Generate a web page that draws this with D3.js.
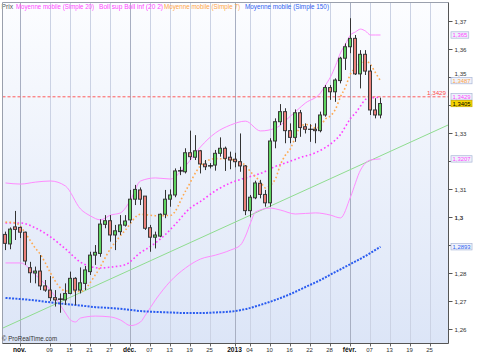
<!DOCTYPE html>
<html><head><meta charset="utf-8">
<script src="https://cdn.jsdelivr.net/npm/d3@7"></script>
<style>body{margin:0;background:#fff}svg{display:block;font-family:"Liberation Sans",Arial,sans-serif}</style>
</head><body><svg id="c" width="477" height="359"></svg>
<script>
// ---------- DATA ----------
const dates = d3.utcDay.range(new Date(Date.UTC(2012,9,29)), new Date(Date.UTC(2013,2,1)))
  .filter(d => d.getUTCDay() !== 0 && d.getUTCDay() !== 6)
  .map(d3.utcFormat("%Y-%m-%d"));

const opens = [1.2937,1.2903,1.2964,1.2962,1.2945,1.2818,1.2799,1.2806,1.2753,1.2738,1.2711,1.2706,1.2703,1.2726,1.2780,1.2738,1.2762,1.2804,1.2863,1.2869,1.2973,1.2986,1.2935,1.2947,1.2970,1.2989,1.3063,1.3096,1.3074,1.2961,1.2927,1.2931,1.3009,1.3063,1.3078,1.3164,1.3161,1.3229,1.3213,1.3236,1.3189,1.3182,1.3185,1.3227,1.3245,1.3213,1.3206,1.3197,1.3182,1.3022,1.3068,1.3120,1.3080,1.3050,1.3271,1.3340,1.3376,1.3308,1.3284,1.3372,1.3322,1.3313,1.3313,1.3308,1.3364,1.3462,1.3447,1.3487,1.3567,1.3608,1.3638,1.3511,1.3581,1.3521,1.3382,1.3364];
const highs = [1.2947,1.2962,1.3021,1.2965,1.2947,1.2839,1.2822,1.2863,1.2774,1.2788,1.2738,1.2726,1.2762,1.2804,1.2784,1.2819,1.2824,1.2875,1.2899,1.2991,1.3006,1.3006,1.2971,1.3006,1.3006,1.3096,1.3114,1.3105,1.3074,1.2971,1.2947,1.3012,1.3096,1.3098,1.3173,1.3179,1.3245,1.3308,1.3292,1.3239,1.3203,1.3192,1.3239,1.3284,1.3251,1.3233,1.3229,1.3298,1.3185,1.3078,1.3129,1.3132,1.3096,1.3281,1.3352,1.3403,1.3388,1.3334,1.3384,1.3382,1.3334,1.3331,1.3334,1.3376,1.3471,1.3471,1.3495,1.3572,1.3620,1.3710,1.3650,1.3596,1.3596,1.3543,1.3424,1.3426];
const lows = [1.2881,1.2884,1.2917,1.2924,1.2828,1.2764,1.2762,1.2738,1.2732,1.2699,1.2679,1.2657,1.2685,1.2723,1.2685,1.2726,1.2738,1.2792,1.2828,1.2857,1.2959,1.2911,1.2881,1.2935,1.2965,1.2977,1.3042,1.3042,1.2953,1.2875,1.2887,1.2927,1.2995,1.3036,1.3070,1.3149,1.3155,1.3203,1.3203,1.3155,1.3167,1.3173,1.3165,1.3215,1.3164,1.3170,1.3177,1.3161,1.3006,1.2998,1.3063,1.3066,1.3036,1.3036,1.3245,1.3328,1.3263,1.3263,1.3268,1.3286,1.3298,1.3268,1.3263,1.3302,1.3358,1.3418,1.3411,1.3477,1.3525,1.3585,1.3507,1.3459,1.3507,1.3364,1.3352,1.3352];
const closes = [1.2905,1.2956,1.2955,1.2945,1.2842,1.2800,1.2806,1.2753,1.2738,1.2711,1.2703,1.2706,1.2726,1.2780,1.2738,1.2764,1.2810,1.2863,1.2873,1.2974,1.2986,1.2935,1.2950,1.2971,1.2985,1.3063,1.3098,1.3063,1.2959,1.2927,1.2935,1.3009,1.3063,1.3078,1.3164,1.3164,1.3229,1.3215,1.3236,1.3189,1.3179,1.3182,1.3227,1.3245,1.3209,1.3203,1.3197,1.3182,1.3022,1.3070,1.3121,1.3080,1.3050,1.3271,1.3340,1.3376,1.3308,1.3284,1.3372,1.3319,1.3313,1.3313,1.3308,1.3364,1.3462,1.3447,1.3489,1.3567,1.3608,1.3638,1.3511,1.3581,1.3521,1.3382,1.3364,1.3405];

const ma7 = [["2012-10-29",1.2981],["2012-10-31",1.2978],["2012-11-01",1.2966],["2012-11-02",1.2940],["2012-11-05",1.2914],["2012-11-06",1.2887],["2012-11-07",1.2865],["2012-11-08",1.2834],["2012-11-09",1.2799],["2012-11-14",1.2735],["2012-11-19",1.2733],["2012-11-22",1.2793],["2012-11-27",1.2886],["2012-11-30",1.2953],["2012-12-05",1.3009],["2012-12-10",1.3004],["2012-12-13",1.3005],["2012-12-18",1.3092],["2012-12-21",1.3182],["2012-12-26",1.3208],["2012-12-31",1.3205],["2013-01-03",1.3184],["2013-01-04",1.3161],["2013-01-07",1.3143],["2013-01-08",1.3125],["2013-01-09",1.3103],["2013-01-10",1.3114],["2013-01-11",1.3136],["2013-01-14",1.3187],["2013-01-15",1.3221],["2013-01-16",1.3244],["2013-01-17",1.3286],["2013-01-18",1.3324],["2013-01-21",1.3330],["2013-01-22",1.3326],["2013-01-23",1.3317],["2013-01-24",1.3325],["2013-01-25",1.3350],["2013-01-28",1.3361],["2013-01-29",1.3385],["2013-01-30",1.3429],["2013-01-31",1.3464],["2013-02-01",1.3511],["2013-02-04",1.3532],["2013-02-05",1.3549],["2013-02-06",1.3559],["2013-02-07",1.3544],["2013-02-08",1.3515],["2013-02-11",1.3486]];

const ma20 = [["2012-10-29",1.2978],["2012-11-01",1.2978],["2012-11-06",1.2960],["2012-11-09",1.2928],["2012-11-14",1.2885],["2012-11-19",1.2838],["2012-11-21",1.2822],["2012-11-23",1.2817],["2012-11-27",1.2820],["2012-11-30",1.2829],["2012-12-05",1.2872],["2012-12-07",1.2894],["2012-12-12",1.2937],["2012-12-14",1.2974],["2012-12-19",1.3032],["2012-12-21",1.3055],["2012-12-26",1.3093],["2012-12-31",1.3121],["2013-01-03",1.3139],["2013-01-08",1.3155],["2013-01-11",1.3180],["2013-01-16",1.3199],["2013-01-18",1.3212],["2013-01-23",1.3229],["2013-01-25",1.3248],["2013-01-29",1.3275],["2013-01-30",1.3294],["2013-01-31",1.3323],["2013-02-01",1.3352],["2013-02-04",1.3371],["2013-02-05",1.3396],["2013-02-06",1.3420],["2013-02-07",1.3425],["2013-02-08",1.3426],["2013-02-11",1.3429]];

const bollUp = [["2012-10-29",1.3121],["2012-11-01",1.3117],["2012-11-06",1.3124],["2012-11-09",1.3128],["2012-11-14",1.3110],["2012-11-19",1.3028],["2012-11-21",1.3003],["2012-11-23",1.2989],["2012-11-27",1.3006],["2012-11-29",1.3014],["2012-12-03",1.3060],["2012-12-05",1.3128],["2012-12-10",1.3139],["2012-12-13",1.3135],["2012-12-18",1.3182],["2012-12-21",1.3250],["2012-12-26",1.3300],["2012-12-31",1.3328],["2013-01-03",1.3342],["2013-01-08",1.3307],["2013-01-11",1.3317],["2013-01-16",1.3360],["2013-01-21",1.3407],["2013-01-24",1.3443],["2013-01-25",1.3471],["2013-01-28",1.3500],["2013-01-29",1.3540],["2013-01-30",1.3586],["2013-01-31",1.3618],["2013-02-01",1.3650],["2013-02-04",1.3661],["2013-02-05",1.3671],["2013-02-06",1.3664],["2013-02-07",1.3650],["2013-02-08",1.3650],["2013-02-11",1.3650]];

const bollDn = [["2012-10-29",1.2835],["2012-11-01",1.2835],["2012-11-06",1.2792],["2012-11-09",1.2738],["2012-11-14",1.2656],["2012-11-15",1.2631],["2012-11-16",1.2624],["2012-11-19",1.2638],["2012-11-22",1.2645],["2012-11-27",1.2642],["2012-11-29",1.2631],["2012-12-03",1.2611],["2012-12-05",1.2624],["2012-12-06",1.2649],["2012-12-10",1.2703],["2012-12-13",1.2770],["2012-12-18",1.2817],["2012-12-21",1.2849],["2012-12-26",1.2863],["2012-12-31",1.2881],["2013-01-02",1.2899],["2013-01-03",1.2931],["2013-01-04",1.2978],["2013-01-07",1.3017],["2013-01-10",1.3031],["2013-01-14",1.3024],["2013-01-17",1.3010],["2013-01-23",1.3014],["2013-01-28",1.3006],["2013-01-30",1.2996],["2013-02-01",1.3071],["2013-02-05",1.3167],["2013-02-07",1.3203],["2013-02-11",1.3207]];

const ma150 = [["2012-10-29",1.2710],["2012-11-01",1.2706],["2012-11-06",1.2701],["2012-11-09",1.2694],["2012-11-14",1.2688],["2012-11-19",1.2683],["2012-11-22",1.2677],["2012-11-27",1.2674],["2012-11-30",1.2669],["2012-12-05",1.2663],["2012-12-10",1.2660],["2012-12-13",1.2658],["2012-12-18",1.2656],["2012-12-21",1.2656],["2012-12-26",1.2658],["2012-12-31",1.2661],["2013-01-03",1.2670],["2013-01-08",1.2685],["2013-01-11",1.2703],["2013-01-16",1.2724],["2013-01-21",1.2749],["2013-01-24",1.2774],["2013-01-29",1.2803],["2013-02-01",1.2831],["2013-02-06",1.2860],["2013-02-11",1.2893]];

const trendAnchors = [["2012-11-01",1.2631],["2013-02-11",1.3218]];
const hLineValue = 1.3429;

const xTickDates = ["2012-11-01","2012-11-09","2012-11-15","2012-11-21","2012-11-27","2012-12-03","2012-12-07","2012-12-13","2012-12-19","2012-12-25","2013-01-01","2013-01-04","2013-01-10","2013-01-16","2013-01-22","2013-01-28","2013-02-01","2013-02-07","2013-02-13","2013-02-19","2013-02-25"];
const xTickLabels = ["nov.","09","15","21","27","déc.","07","13","19","25","2013","04","10","16","22","28","févr.","07","13","19","25"];
const xTickMajor = ["nov.","déc.","2013","févr."];

const yTicks = [1.26,1.27,1.28,1.29,1.30,1.31,1.32,1.33,1.34,1.35,1.36,1.37];
const yTickLabels = ["1,26","1,27","1,28","1,29","1,3","1,31","1,32","1,33","1,34","1,35","1,36","1,37"];

const labelValues = [1.3650,1.3487,1.3429,1.3207,1.2893,1.3405];
const labelTexts = ["1,365","1,3487","1,3429","1,3207","1,2893","1,3405"];

const legendTexts = ["Prix","Moyenne mobile (Simple 20)","Boll sup Boll inf (20 2)","Moyenne mobile (Simple 7)","Moyenne mobile (Simple 150)"];

// ---------- STYLE ----------
const MAG = "#ff44ff", ORA = "#ffa447", BLU = "#2f62f0";
const labelColors = [MAG, ORA, MAG, MAG, BLU, "#000"];
const labelFills = ["#eef2fb","#eef2fb","#eef2fb","#eef2fb","#eef2fb","#f4d400"];
const legendColors = ["#555", MAG, MAG, ORA, BLU];
const legendX = [1.5, 16, 99, 164, 245];
const legendW = [11.5, 78, 64, 76, 84];

// ---------- CHART ----------
const W = 477, H = 359, L = 2.5, R = 448.5, T = 2.5, B = 343.5;
const svg = d3.select("#c");
const defs = svg.append("defs");
const grad = defs.append("linearGradient").attr("id","bg").attr("x1",0).attr("y1",0).attr("x2",0).attr("y2",1);
grad.append("stop").attr("offset","0%").attr("stop-color","#fcfdff");
grad.append("stop").attr("offset","100%").attr("stop-color","#dce5f7");
defs.append("clipPath").attr("id","clip").append("rect").attr("x",L).attr("y",T).attr("width",R-L).attr("height",B-T);

svg.append("rect").attr("width",W).attr("height",H).attr("fill","#fff");
svg.append("rect").attr("x",L).attr("y",T).attr("width",R-L).attr("height",B-T).attr("fill","url(#bg)");

const x = d3.scaleBand().domain(dates).range([3, 448]).padding(0);
const cx = d => x(d) + x.bandwidth()/2;
const y = d3.scaleLinear().domain([1.25488, 1.37644]).range([343, 3]);

// vertical gridlines
const grid = svg.append("g");
xTickDates.forEach((d,i) => {
  const major = xTickMajor.includes(xTickLabels[i]);
  grid.append("line").attr("x1",cx(d)).attr("x2",cx(d)).attr("y1",T).attr("y2",B)
    .attr("stroke", major ? "#a8afc2" : "#cbd2e4").attr("stroke-width",1);
  grid.append("line").attr("x1",cx(d)).attr("x2",cx(d)).attr("y1",B).attr("y2",B+3).attr("stroke","#666");
});

// legend
legendTexts.forEach((t,i) => {
  svg.append("text").attr("x",legendX[i]).attr("y",8.5).attr("font-size",6.4)
    .attr("fill",legendColors[i]).attr("textLength",legendW[i]).attr("lengthAdjust","spacingAndGlyphs").text(t);
});

const plot = svg.append("g").attr("clip-path","url(#clip)");

// trendline across the plot
const tx0 = cx(trendAnchors[0][0]), tx1 = cx(trendAnchors[1][0]);
const ty0 = y(trendAnchors[0][1]), ty1 = y(trendAnchors[1][1]);
const slope = (ty1-ty0)/(tx1-tx0);
plot.append("line").attr("x1",L).attr("y1",ty0+slope*(L-tx0)).attr("x2",R).attr("y2",ty0+slope*(R-tx0))
  .attr("stroke","#8fdc8f").attr("stroke-width",1);

const line = d3.line().x(d => cx(d[0])).y(d => y(d[1])).curve(d3.curveMonotoneX);
plot.append("path").attr("d",line(bollUp)).attr("fill","none").attr("stroke","#ff8cff").attr("stroke-width",1);
plot.append("path").attr("d",line(bollDn)).attr("fill","none").attr("stroke","#ff8cff").attr("stroke-width",1);
plot.append("path").attr("d",line(ma150)).attr("fill","none").attr("stroke","#2a5cf0").attr("stroke-width",2).attr("stroke-dasharray","2,1.3");
plot.append("path").attr("d",line(ma20)).attr("fill","none").attr("stroke","#ff3cff").attr("stroke-width",1.6).attr("stroke-dasharray","1.6,2.4");
plot.append("path").attr("d",line(ma7)).attr("fill","none").attr("stroke","#ffa94f").attr("stroke-width",1.6).attr("stroke-dasharray","1.6,2.4");

// horizontal dashed level
plot.append("line").attr("x1",L).attr("x2",R).attr("y1",y(hLineValue)).attr("y2",y(hLineValue))
  .attr("stroke","#ff5a5a").attr("stroke-width",1).attr("stroke-dasharray","3,2");
svg.append("text").attr("x",446).attr("y",y(hLineValue)-2).attr("text-anchor","end").attr("font-size",6.2)
  .attr("fill","#ff4a4a").text("1,3429");

// candles
const bars = opens.map((o,i) => ({d: dates[i], o, h: highs[i], l: lows[i], c: closes[i]}));
const cg = plot.append("g");
bars.forEach(b => {
  const X = cx(b.d);
  cg.append("line").attr("x1",X).attr("x2",X).attr("y1",y(b.h)).attr("y2",y(b.l)).attr("stroke","#333").attr("stroke-width",1);
  if (b.o === b.c) {
    cg.append("line").attr("x1",X-2.5).attr("x2",X+2.5).attr("y1",y(b.o)).attr("y2",y(b.o)).attr("stroke","#111").attr("stroke-width",1.2);
  } else {
    const top = y(Math.max(b.o,b.c)), bot = y(Math.min(b.o,b.c));
    cg.append("rect").attr("x",X-2).attr("width",3).attr("y",top).attr("height",Math.max(bot-top,0.8))
      .attr("fill", b.c > b.o ? "#5ed45e" : "#eb817a").attr("stroke","#3a3a3a").attr("stroke-width",1);
  }
});

// frame
svg.append("line").attr("x1",L).attr("x2",L).attr("y1",T).attr("y2",B).attr("stroke","#9aa0ad");
svg.append("line").attr("x1",L).attr("x2",R).attr("y1",T).attr("y2",T).attr("stroke","#9aa0ad");
svg.append("line").attr("x1",R).attr("x2",R).attr("y1",T).attr("y2",B).attr("stroke","#555");
svg.append("line").attr("x1",L).attr("x2",R).attr("y1",B).attr("y2",B).attr("stroke","#555");

// watermark
svg.append("text").attr("x",2).attr("y",340.5).attr("font-size",6.3).attr("fill","#333")
  .attr("textLength",55).attr("lengthAdjust","spacingAndGlyphs").text("© ProRealTime.com");

// x labels
xTickDates.forEach((d,i) => {
  const major = xTickMajor.includes(xTickLabels[i]);
  svg.append("text").attr("x",cx(d)-1).attr("y",352).attr("text-anchor","middle")
    .attr("font-size", major ? 6.6 : 6).attr("font-weight", major ? "bold" : "normal")
    .attr("fill", major ? "#111" : "#333").text(xTickLabels[i]);
});

// y ticks: labels fully under a value box are hidden (as in the original);
// labels partly under a box are nudged just clear of it
yTicks.forEach((v,i) => {
  const Y = Math.round(y(v)) + 0.5;
  svg.append("line").attr("x1",R).attr("x2",R+4).attr("y1",Y).attr("y2",Y).attr("stroke","#555");
  const dists = labelValues.map(lv => y(lv) - y(v));
  const nearest = dists.reduce((a,b) => Math.abs(b) < Math.abs(a) ? b : a);
  if (Math.abs(nearest) < 3) return;
  let ty = Y;
  if (Math.abs(nearest) < 7.5) ty = Y + nearest - Math.sign(nearest) * 7.5;
  svg.append("text").attr("x",R+6).attr("y",ty).attr("dy","0.35em").attr("font-size",6.2)
    .attr("font-weight", v === 1.30 ? "bold" : "normal").attr("fill","#333").text(yTickLabels[i]);
});

// value label boxes
labelValues.forEach((v,i) => {
  const g = svg.append("g").attr("transform",`translate(451,${y(v)})`);
  const r = g.append("rect").attr("x",0).attr("y",-3.2).attr("height",6.4)
    .attr("fill",labelFills[i]).attr("stroke", i === 5 ? "#c9a800" : "#aab6d6").attr("stroke-width",0.7);
  const t = g.append("text").attr("x",1.5).attr("y",0).attr("dy","0.35em").attr("font-size",5.9)
    .attr("fill",labelColors[i]).text(labelTexts[i]);
  r.attr("width", t.node().getComputedTextLength() + 3);
});
</script>
</body></html>
